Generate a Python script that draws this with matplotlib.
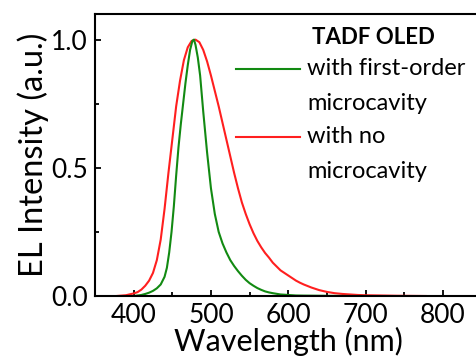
import matplotlib
matplotlib.use("Agg")
import matplotlib.pyplot as plt
from matplotlib.ticker import MultipleLocator

plt.rcParams['font.family'] = ['Lato', 'DejaVu Sans']

# Normalised electroluminescence spectra (wavelength in nm)
wl_cavity = [400, 410, 415, 420, 425, 430, 435, 440, 443, 446, 449, 452, 455, 458,
             461, 464, 467, 470, 473, 476, 478, 480, 483, 486, 490, 495, 500, 505,
             510, 515, 520, 525, 530, 535, 540, 545, 550, 555, 560, 565, 570, 575,
             580, 590, 600, 610, 620, 640, 660, 680, 700]
el_cavity = [0.0, 0.004, 0.008, 0.013, 0.02, 0.03, 0.045, 0.075, 0.11, 0.17, 0.25, 0.35,
             0.47, 0.58, 0.67, 0.75, 0.83, 0.9, 0.96, 0.995, 1.0, 0.98, 0.93, 0.86,
             0.72, 0.56, 0.42, 0.32, 0.25, 0.205, 0.17, 0.14, 0.117, 0.097, 0.079,
             0.063, 0.05, 0.04, 0.031, 0.024, 0.018, 0.014, 0.011, 0.006, 0.004,
             0.002, 0.0015, 0.001, 0.0005, 0.0, 0.0]

wl_plain = [378, 390, 400, 405, 410, 415, 420, 425, 430, 435, 440, 445, 450, 455, 460,
            465, 470, 475, 480, 485, 490, 495, 500, 505, 510, 515, 520, 525, 530, 535,
            540, 545, 550, 555, 560, 565, 570, 575, 580, 585, 590, 595, 600, 605, 610,
            615, 620, 625, 630, 640, 650, 660, 670, 680, 690, 700, 720, 740, 760, 778]
el_plain = [0.0, 0.003, 0.01, 0.015, 0.025, 0.04, 0.06, 0.09, 0.14, 0.22, 0.34, 0.48,
            0.61, 0.74, 0.84, 0.92, 0.97, 0.995, 1.0, 0.99, 0.96, 0.915, 0.86, 0.80,
            0.74, 0.675, 0.61, 0.545, 0.48, 0.42, 0.365, 0.32, 0.28, 0.245, 0.215,
            0.19, 0.168, 0.15, 0.13, 0.115, 0.10, 0.09, 0.08, 0.07, 0.06, 0.052,
            0.045, 0.039, 0.033, 0.023, 0.016, 0.011, 0.008, 0.006, 0.004, 0.003,
            0.002, 0.001, 0.0005, 0.0]

green = '#128a12'
red = '#ff1f1f'

fig = plt.figure(figsize=(4.76, 3.6), dpi=100)
ax = fig.add_axes([95 / 476, 64 / 360, 386.5 / 476, 282 / 360])

ax.plot(wl_plain, el_plain, color=red, lw=1.5)
ax.plot(wl_cavity, el_cavity, color=green, lw=1.5)

ax.set_xlim(350, 850)
ax.set_ylim(0, 1.1)
ax.xaxis.set_major_locator(MultipleLocator(100))
ax.xaxis.set_minor_locator(MultipleLocator(50))
ax.yaxis.set_major_locator(MultipleLocator(0.5))
ax.yaxis.set_minor_locator(MultipleLocator(0.25))
ax.tick_params(which='both', direction='in', width=1.3, labelsize=19,
               top=False, right=False)
ax.tick_params(which='major', length=4.5, pad=5)
ax.tick_params(which='minor', length=3)
for s in ax.spines.values():
    s.set_linewidth(1.5)

ax.set_xlabel('Wavelength (nm)', fontsize=22, labelpad=-0.5)
ax.set_ylabel('EL Intensity (a.u.)', fontsize=23.5, labelpad=2)

# Legend drawn in axes fraction coordinates
ax.text(0.561, 0.918, 'TADF OLED', transform=ax.transAxes, fontsize=16,
        fontweight='bold', va='center', ha='left')
ax.plot([0.365, 0.530], [0.805, 0.805], color=green, lw=1.5, transform=ax.transAxes)
ax.plot([0.365, 0.530], [0.564, 0.564], color=red, lw=1.5, transform=ax.transAxes)
for y, s in [(0.805, 'with first-order'), (0.681, 'microcavity'),
             (0.564, 'with no'), (0.44, 'microcavity')]:
    ax.text(0.549, y, s, transform=ax.transAxes, fontsize=17, va='center', ha='left')

fig.savefig('out.png', dpi=100)
